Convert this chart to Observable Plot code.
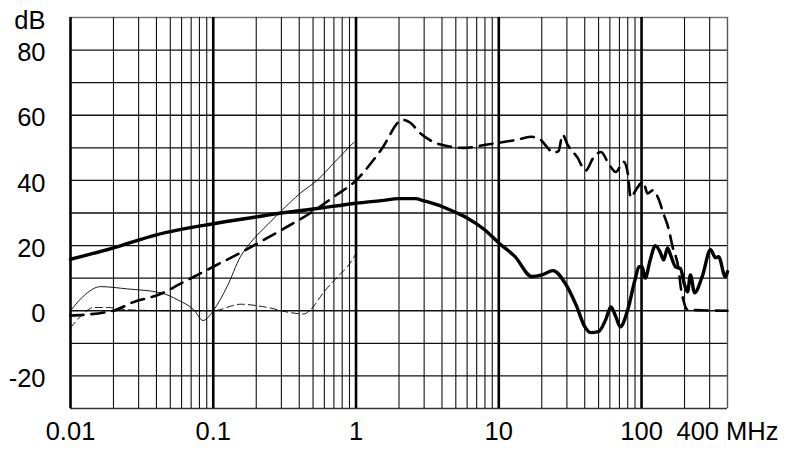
<!DOCTYPE html>
<html>
<head>
<meta charset="utf-8">
<script src="https://cdn.jsdelivr.net/npm/d3@7"></script>
<script src="https://cdn.jsdelivr.net/npm/@observablehq/plot@0.6"></script>
<style>
  html, body { margin: 0; padding: 0; background: #fff; }
  #chart { width: 790px; height: 455px; }
</style>
</head>
<body>
<div id="chart"></div>
<script>
// Axis ticks
const xTickValues = [0.01, 0.1, 1, 10, 100, 400];
const xTickLabels = ["0.01", "0.1", "1", "10", "100", "400 MHz"];
const yTickValues = [-20, 0, 20, 40, 60, 80, 90];
const yTickLabels = ["-20", "0", "20", "40", "60", "80", "dB"];

// Thick solid curve (MHz, dB)
const thickSolidF = [0.01,0.02,0.04,0.1,0.2,0.3,0.52,1,1.5,2,2.6,3,4,5.1,6,8,10,13,17,20,24,29,35,40,44,50,56,61,66,71,80,90,96,101,106,115,125,135,143,152,160,173,187,200,210,220,235,267,304,330,346,387,400];
const thickSolidDb = [15.8,19.3,23.3,26.7,28.8,30,31.3,33,33.8,34.4,34.4,33.7,32,30,28.5,24.8,20.8,16.6,10.5,11,12.3,8.6,1.5,-4.9,-6.7,-6.4,-2.8,1.2,-1.8,-4.9,0.3,9.5,13.5,13.5,10,15.6,20,18,15.6,19.3,17,13.5,13,8,5.8,11,5.5,10.7,18.7,16.3,16.6,10.4,12];

// Thick dashed curve
const thickDashF = [0.01,0.02,0.027,0.043,0.06,0.1,0.155,0.3,0.48,0.7,1.0,1.5,2.12,2.4,2.8,3.9,5.7,8.3,10.8,13.5,16.7,19.6,22,24,26.2,28,30.3,35.6,40.5,46,52,59,66,75,80,84,91,103,110,121,131,142,155,165,182,188,196,210,400];
const thickDashDb = [-1.5,0,2.5,5.2,8.5,13.5,17.8,24.8,30,35,40,49.4,58.6,57.7,54.6,51,50,51,51.8,52.5,53.4,52.5,50,48.5,49,54,51,47,43,47,48.7,45,42.6,45.7,42.3,34.7,37,39.6,36,37,34.5,30,25,19.6,12.6,7.4,3.4,0.3,0];

// Thin solid curve
const thinSolidF = [0.01,0.0127,0.0162,0.025,0.043,0.056,0.073,0.085,0.0955,0.1,0.125,0.155,0.183,0.24,0.296,0.41,0.54,0.7,0.82,0.96,1.0];
const thinSolidDb = [0,5,7.4,6.7,5.5,3.4,0.3,-3,-1.2,0,7.4,16.6,21,26.4,30.4,36.2,40.2,45.4,48.5,51.5,52];

// Thin dashed curve
const thinDashF = [0.01,0.0121,0.0145,0.0182,0.025,0.05,0.1,0.155,0.24,0.35,0.43,0.48,0.59,0.74,0.87,1.0];
const thinDashDb = [-5.2,-1.2,1,1,0.3,0,0,2,1,-0.6,-1,0.3,5.5,10.4,13.5,17.5];

const toRows = (f, v) => f.map((x, i) => ({f: x, db: v[i]}));

// Log grid lines: 2..9 per decade
const minorLines = [];
for (let e = -2; e <= 2; e++) {
  for (let m = 2; m <= 9; m++) {
    const v = m * Math.pow(10, e);
    if (v < 400) minorLines.push(v);
  }
}
const decadeLines = [0.01, 0.1, 1, 10, 100];
const hLines = d3.range(-20, 90, 10);

const font = "'Liberation Sans', Arial, Helvetica, sans-serif";

const chart = Plot.plot({
  width: 790,
  height: 455,
  marginLeft: 70,
  marginRight: 63,
  marginTop: 17,
  marginBottom: 47,
  x: {type: "log", domain: [0.01, 400], axis: null},
  y: {domain: [-30, 90]},
  style: {fontFamily: font, background: "#fff", color: "#000", overflow: "visible"},
  marks: [
    Plot.ruleY(hLines, {stroke: "#111", strokeWidth: 1.4}),
    Plot.ruleY([90], {stroke: "#777", strokeWidth: 1.4}),
    Plot.ruleY([-30], {stroke: "#333", strokeWidth: 1.6}),
    Plot.ruleX(minorLines, {stroke: "#111", strokeWidth: 1.1}),
    Plot.ruleX([400], {stroke: "#555", strokeWidth: 1.4}),
    Plot.ruleX(decadeLines, {stroke: "#000", strokeWidth: 2.6}),
    Plot.line(toRows(thinDashF, thinDashDb), {x: "f", y: "db", stroke: "#000", strokeWidth: 0.9, strokeDasharray: "7,4", curve: "monotone-x"}),
    Plot.line(toRows(thinSolidF, thinSolidDb), {x: "f", y: "db", stroke: "#000", strokeWidth: 0.9, curve: "monotone-x"}),
    Plot.line(toRows(thickDashF, thickDashDb), {x: "f", y: "db", stroke: "#000", strokeWidth: 2.6, strokeDasharray: "13,8", curve: "monotone-x"}),
    Plot.line(toRows(thickSolidF, thickSolidDb), {x: "f", y: "db", stroke: "#000", strokeWidth: 3.4, curve: "monotone-x"}),
    Plot.text(xTickValues, {
      x: d => d, y: () => -30, dy: 23,
      text: d => xTickLabels[xTickValues.indexOf(d)],
      fontSize: 25.5, fontFamily: font, fill: "#000", textAnchor: "middle", lineAnchor: "middle"
    }),
    Plot.axisY(yTickValues, {
      label: null, tickSize: 0, tickPadding: 25, fontSize: 25.5, fontFamily: font, dy: 3,
      tickFormat: d => yTickLabels[yTickValues.indexOf(d)]
    })
  ]
});
document.getElementById("chart").appendChild(chart);
</script>
</body>
</html>
